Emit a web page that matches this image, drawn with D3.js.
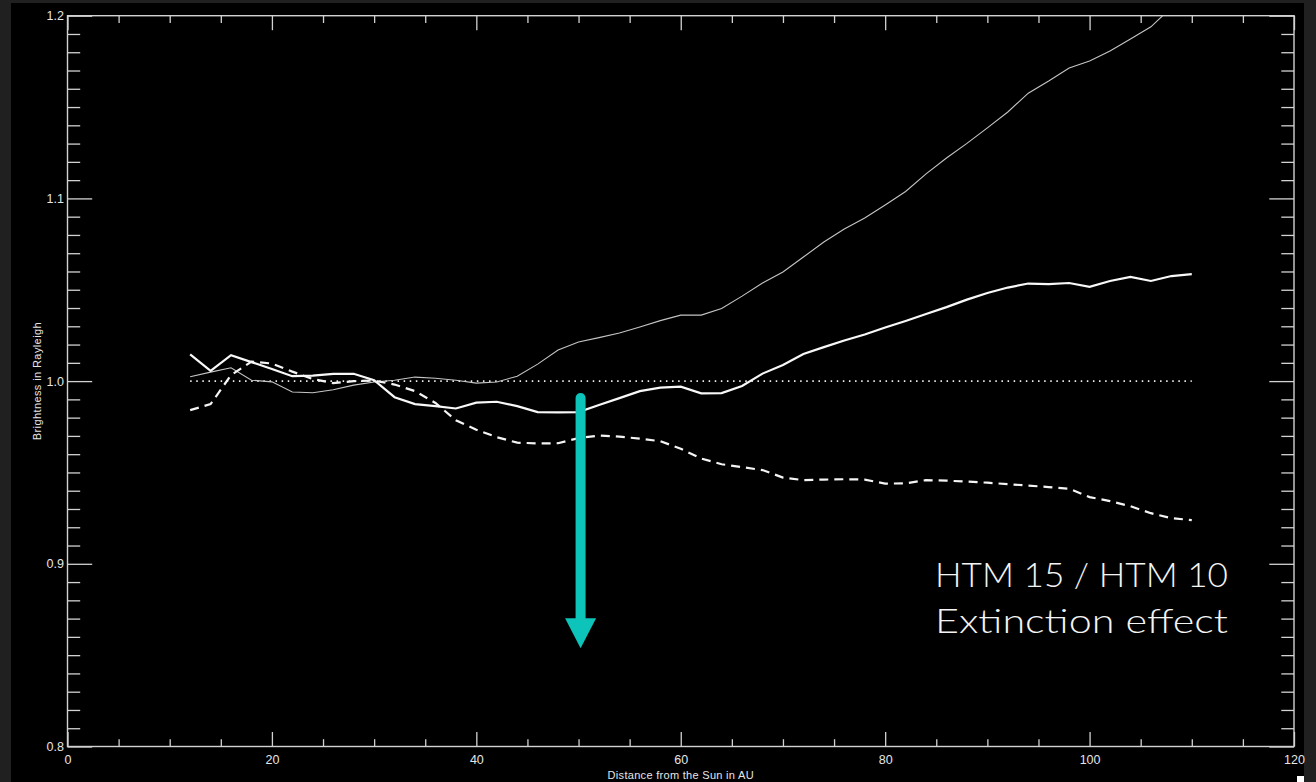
<!DOCTYPE html>
<html>
<head>
<meta charset="utf-8">
<script src="https://cdn.jsdelivr.net/npm/d3@7"></script>
<style>
  html, body { margin: 0; padding: 0; background: #202020; }
  svg { display: block; }
</style>
</head>
<body>
<svg id="chart" width="1316" height="782"></svg>
<script>
// Distance from the Sun (AU), sampled every 2 AU
const distanceAU = [12,14,16,18,20,22,24,26,28,30,32,34,36,38,40,42,44,46,48,50,
                    52,54,56,58,60,62,64,66,68,70,72,74,76,78,80,82,84,86,88,90,
                    92,94,96,98,100,102,104,106,108,110];

// Brightness ratios (thin, thick solid, dashed curves)
const ratioThin = [1.0024,1.0049,1.0073,1.0005,0.9996,0.9940,0.9936,0.9953,0.9978,0.9995,
                   1.0005,1.0022,1.0016,1.0005,0.9989,0.9995,1.0027,1.0093,1.0170,1.0214,
                   1.0238,1.0263,1.0296,1.0331,1.0361,1.0361,1.0397,1.0465,1.0537,1.0597,
                   1.0679,1.0761,1.0832,1.0893,1.0964,1.1038,1.1134,1.1221,1.1301,1.1386,
                   1.1473,1.1576,1.1643,1.1714,1.1752,1.1807,1.1873,1.1939,1.2045,1.2140];

const ratioSolid = [1.0146,1.0056,1.0142,1.0104,1.0066,1.0027,1.0030,1.0040,1.0040,1.0005,
                    0.9912,0.9874,0.9863,0.9850,0.9882,0.9887,0.9863,0.9830,0.9829,0.9830,
                    0.9869,0.9907,0.9945,0.9964,0.9970,0.9933,0.9934,0.9973,1.0041,1.0088,
                    1.0148,1.0186,1.0222,1.0255,1.0293,1.0329,1.0367,1.0405,1.0446,1.0482,
                    1.0512,1.0534,1.0531,1.0537,1.0516,1.0548,1.0570,1.0548,1.0575,1.0586];

const ratioDashed = [0.9841,0.9874,1.0033,1.0107,1.0096,1.0052,1.0011,0.9989,1.0000,1.0003,
                     0.9981,0.9945,0.9880,0.9786,0.9734,0.9693,0.9663,0.9659,0.9660,0.9688,
                     0.9702,0.9696,0.9685,0.9671,0.9630,0.9576,0.9545,0.9529,0.9513,0.9472,
                     0.9458,0.9461,0.9463,0.9461,0.9439,0.9440,0.9458,0.9455,0.9450,0.9444,
                     0.9436,0.9428,0.9420,0.9411,0.9365,0.9343,0.9315,0.9277,0.9250,0.9239];

// Unit ratio reference level
const referenceLevel = 1.0;

// Axis ticks
const xMajorTicks = [0,20,40,60,80,100,120];
const xTickLabels = ["0","20","40","60","80","100","120"];
const xMinorTicks = [5,10,15,25,30,35,45,50,55,65,70,75,85,90,95,105,110,115];
const yMajorTicks = [0.8,0.9,1.0,1.1,1.2];
const yTickLabels = ["0.8","0.9","1.0","1.1","1.2"];
const yMinorTicks = [0.81,0.82,0.83,0.84,0.85,0.86,0.87,0.88,0.89,
                     0.91,0.92,0.93,0.94,0.95,0.96,0.97,0.98,0.99,
                     1.01,1.02,1.03,1.04,1.05,1.06,1.07,1.08,1.09,
                     1.11,1.12,1.13,1.14,1.15,1.16,1.17,1.18,1.19];

// Annotation arrow (distance, from ratio, to ratio)
const arrowAU = 50.2;
const arrowFrom = 0.9907;
const arrowTo = 0.8538;
const noteLines = ["HTM 15 / HTM 10", "Extinction effect"];

(function draw() {
  const svg = d3.select("#chart");
  const H = 782;
  const pLeft = 67.5, pRight = 1294, pTop = 15.7, pBottom = 746.5;

  // black plotting canvas
  svg.append("rect").attr("x", 11).attr("y", 3).attr("width", 1293).attr("height", H - 3).attr("fill", "#000");

  const x = d3.scaleLinear().domain([0, 120]).range([pLeft, pRight]);
  const y = d3.scaleLinear().domain([0.8, 1.2]).range([pBottom, pTop]);

  const axisColor = "#d2d2d2";
  const fontFam = '"Liberation Sans", "DejaVu Sans", sans-serif';

  function styleAxis(g) {
    g.select(".domain").remove();
    g.selectAll(".tick line").attr("stroke", axisColor).attr("stroke-width", 1.3);
    g.selectAll(".tick text").attr("fill", "#e6e6e6").attr("font-size", 12.5).attr("font-family", fontFam);
  }

  // bottom axis
  svg.append("g").attr("transform", `translate(0,${pBottom})`)
    .call(d3.axisBottom(x).tickValues(xMajorTicks).tickFormat((d, i) => xTickLabels[i]).tickSize(-14.5).tickSizeOuter(0).tickPadding(9))
    .call(styleAxis);
  svg.append("g").attr("transform", `translate(0,${pBottom})`)
    .call(d3.axisBottom(x).tickValues(xMinorTicks).tickFormat("").tickSize(-7.3).tickSizeOuter(0))
    .call(styleAxis);
  // top axis
  svg.append("g").attr("transform", `translate(0,${pTop})`)
    .call(d3.axisTop(x).tickValues(xMajorTicks).tickFormat("").tickSize(-14.5).tickSizeOuter(0))
    .call(styleAxis);
  svg.append("g").attr("transform", `translate(0,${pTop})`)
    .call(d3.axisTop(x).tickValues(xMinorTicks).tickFormat("").tickSize(-7.3).tickSizeOuter(0))
    .call(styleAxis);
  // left axis
  svg.append("g").attr("transform", `translate(${pLeft},0)`)
    .call(d3.axisLeft(y).tickValues(yMajorTicks).tickFormat((d, i) => yTickLabels[i]).tickSize(-24.7).tickSizeOuter(0).tickPadding(3.5))
    .call(styleAxis);
  svg.append("g").attr("transform", `translate(${pLeft},0)`)
    .call(d3.axisLeft(y).tickValues(yMinorTicks).tickFormat("").tickSize(-12.7).tickSizeOuter(0))
    .call(styleAxis);
  // right axis
  svg.append("g").attr("transform", `translate(${pRight},0)`)
    .call(d3.axisRight(y).tickValues(yMajorTicks).tickFormat("").tickSize(-24.7).tickSizeOuter(0))
    .call(styleAxis);
  svg.append("g").attr("transform", `translate(${pRight},0)`)
    .call(d3.axisRight(y).tickValues(yMinorTicks).tickFormat("").tickSize(-12.7).tickSizeOuter(0))
    .call(styleAxis);

  // frame
  svg.append("rect").attr("x", pLeft).attr("y", pTop).attr("width", pRight - pLeft).attr("height", pBottom - pTop)
    .attr("fill", "none").attr("stroke", axisColor).attr("stroke-width", 1.4);

  // axis titles
  svg.append("text").attr("x", (pLeft + pRight) / 2).attr("y", 779)
    .attr("text-anchor", "middle").attr("fill", "#e6e6e6").attr("font-size", 11).attr("font-family", fontFam)
    .attr("letter-spacing", 0.3)
    .text("Distance from the Sun in AU");
  svg.append("text").attr("transform", `translate(40.5,${y(1.0)}) rotate(-90)`)
    .attr("text-anchor", "middle").attr("fill", "#e6e6e6").attr("font-size", 11).attr("font-family", fontFam)
    .attr("letter-spacing", 0.4)
    .text("Brightness in Rayleigh");

  // clip to plot frame
  svg.append("clipPath").attr("id", "plotClip").append("rect")
    .attr("x", pLeft).attr("y", pTop).attr("width", pRight - pLeft).attr("height", pBottom - pTop);

  const plot = svg.append("g").attr("clip-path", "url(#plotClip)");
  const line = d3.line().x(d => x(d[0])).y(d => y(d[1]));

  // reference level (dotted)
  plot.append("path")
    .datum([[distanceAU[0], referenceLevel], [distanceAU[distanceAU.length - 1], referenceLevel]])
    .attr("d", line).attr("fill", "none").attr("stroke", "#f0f0f0").attr("stroke-width", 1.6)
    .attr("stroke-dasharray", "1.5,4.6");

  plot.append("path").datum(distanceAU.map((d, i) => [d, ratioThin[i]]))
    .attr("d", line).attr("fill", "none").attr("stroke", "#c4c4c4").attr("stroke-width", 1.1);

  plot.append("path").datum(distanceAU.map((d, i) => [d, ratioDashed[i]]))
    .attr("d", line).attr("fill", "none").attr("stroke", "#f4f4f4").attr("stroke-width", 2.2)
    .attr("stroke-dasharray", "9,6");

  plot.append("path").datum(distanceAU.map((d, i) => [d, ratioSolid[i]]))
    .attr("d", line).attr("fill", "none").attr("stroke", "#f8f8f8").attr("stroke-width", 2.2);

  // extinction arrow
  const teal = "#0cc4b9";
  const ax = x(arrowAU), ay0 = y(arrowFrom), ay1 = y(arrowTo);
  const headLen = 30, headHalf = 15.5;
  svg.append("line").attr("x1", ax).attr("x2", ax).attr("y1", ay0).attr("y2", ay1 - headLen + 1)
    .attr("stroke", teal).attr("stroke-width", 10).attr("stroke-linecap", "round");
  svg.append("path")
    .attr("d", `M${ax - headHalf},${ay1 - headLen} L${ax + headHalf},${ay1 - headLen} L${ax},${ay1} Z`)
    .attr("fill", teal);

  // annotation text
  const note = svg.append("g").attr("fill", "#f4f4f4")
    .attr("font-family", 'Lato, "Open Sans", sans-serif').attr("font-weight", 300).attr("font-size", 33);
  noteLines.forEach((t, i) => {
    note.append("text").attr("x", 935).attr("y", 587 + i * 46)
      .attr("textLength", 293).attr("lengthAdjust", "spacingAndGlyphs").text(t);
  });

  // small marker in the lower right corner
  svg.append("rect").attr("x", 1297).attr("y", 776).attr("width", 7).attr("height", 6).attr("fill", "#fff");
})();
</script>
</body>
</html>
